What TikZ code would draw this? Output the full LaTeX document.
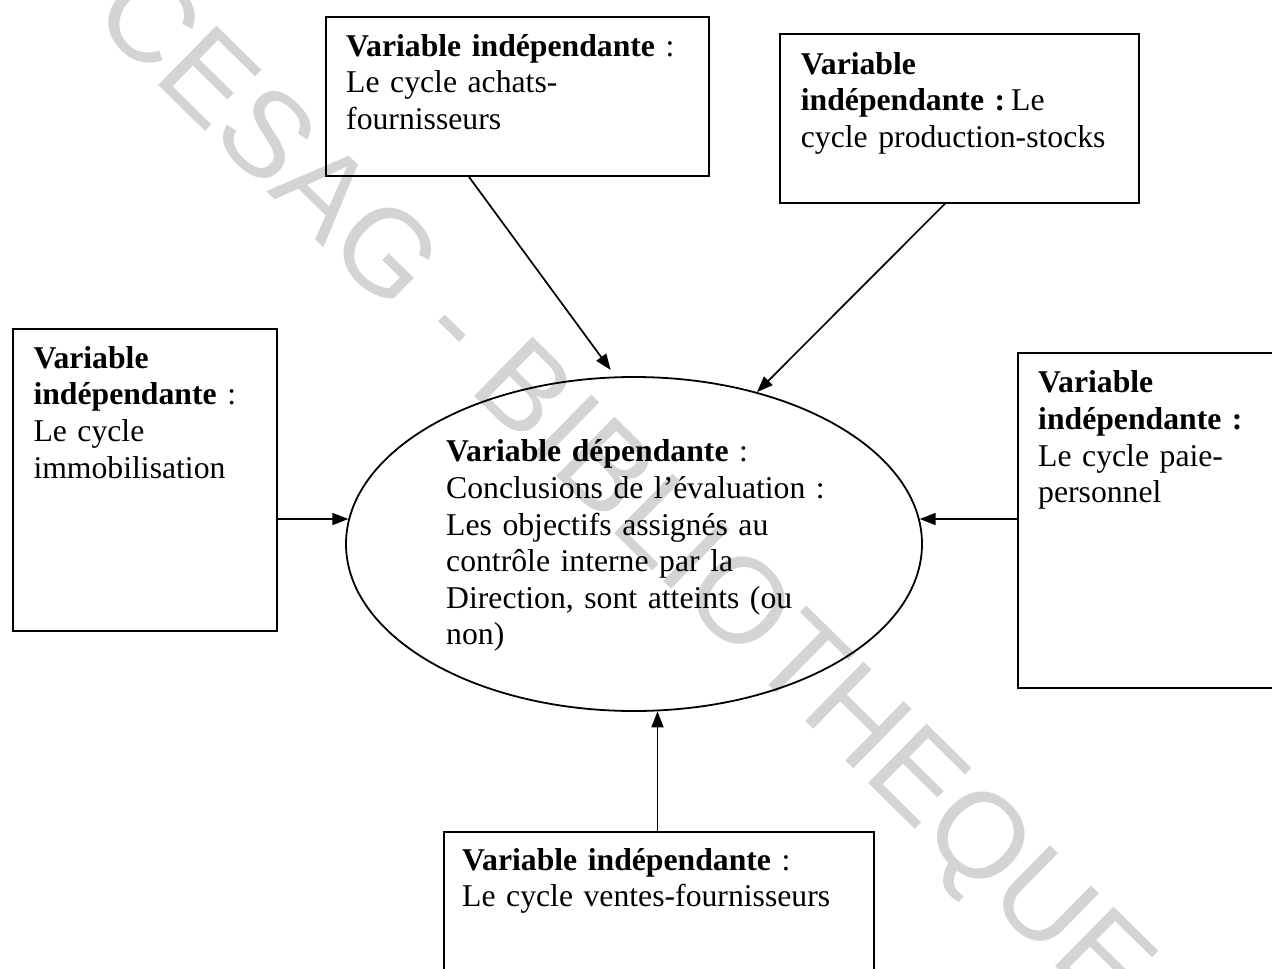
\documentclass[tikz,border=0pt]{standalone}
\usepackage{fontspec}
\setmainfont{Liberation Serif}
\newfontfamily\wmfont{Liberation Sans}
\usetikzlibrary{shapes.geometric,arrows.meta}
\definecolor{wmgray}{RGB}{212,212,212}
\begin{document}
\begin{tikzpicture}[x=1pt,y=-1pt,
  box/.style={draw,line width=1.8pt,inner sep=0pt,anchor=north west},
  lbl/.style={anchor=base west,inner sep=0pt,text width=430pt,align=left,
    font=\fontsize{31.7}{36.65}\selectfont},
  arr/.style={line width=1.7pt,-{Triangle[length=16pt,width=12pt]}},
  wm/.style={text=wmgray,inner sep=0pt,anchor=base west,rotate=-44.5,
    font=\wmfont\fontsize{121}{121}\selectfont}]
\useasboundingbox (0,0) rectangle (1272,969);
\clip (0,0) rectangle (1272,969);
\fill[white] (0,0) rectangle (1272,969);

% library stamp across the page
\node[wm] (stamp) at (89,17.3) {CESAG - BIBLIOTHEQUE};

% frames of the independent variables
\node[box,minimum width=383pt,minimum height=159pt] (tm) at (325,16) {};
\node[box,minimum width=359pt,minimum height=169pt] (tr) at (779,33) {};
\node[box,minimum width=264pt,minimum height=302pt] (lb) at (12,328) {};
\node[box,minimum width=300pt,minimum height=335pt] (rb) at (1017,352) {};
\node[box,minimum width=430pt,minimum height=200pt] (bb) at (443,831) {};

% dependent variable
\node[draw,ellipse,line width=1.8pt,inner sep=0pt,
  minimum width=576pt,minimum height=334pt] (ell) at (634,544) {};

% texts
\node[lbl] (tmt) at (346,56) {\textbf{Variable indépendante} :\\Le cycle achats-\\fournisseurs};
\node[lbl] (trt) at (800.7,74) {\textbf{Variable}\\\textbf{indépendante :}\hspace{6pt}Le\\cycle production-stocks};
\node[lbl] (lbt) at (33.3,368.3) {\textbf{Variable}\\\textbf{indépendante} :\\Le cycle\\immobilisation};
\node[lbl] (rbt) at (1038,392.7) {\textbf{Variable}\\\textbf{indépendante :}\\Le cycle paie-\\personnel};
\node[lbl] (bbt) at (462,870) {\textbf{Variable indépendante} :\\Le cycle ventes-fournisseurs};
\node[lbl] (ellt) at (446,461.7) {\textbf{Variable dépendante} :\\Conclusions de l’évaluation :\\Les objectifs assignés au\\contrôle interne par la\\Direction, sont atteints (ou\\non)};

% connectors
\coordinate (t1) at (610.7,370);
\draw[arr] ([xshift=-48.5pt]tm.south) -- (t1);
\draw[arr] ([xshift=-14.5pt]tr.south) -- (ell.51);
\draw[arr] (lb.east |- ell.175) -- (ell.175);
\draw[arr] (rb.west |- ell.5) -- (ell.5);
\draw[arr] (bb.north -| ell.-82) -- (ell.-82);
\end{tikzpicture}
\end{document}
